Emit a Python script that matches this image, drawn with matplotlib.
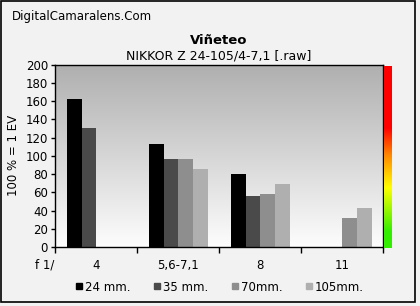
import numpy as np
import matplotlib
matplotlib.use('Agg')
import matplotlib.pyplot as plt
from matplotlib.colors import LinearSegmentedColormap
import matplotlib.lines as mlines
from matplotlib.patches import Rectangle

# data
apertures = ['4', '5,6-7,1', '8', '11']
series = ['24 mm.', '35 mm.', '70mm.', '105mm.']
v24 = [163, 113, 80, 0]
v35 = [131, 97, 56, 0]
v70 = [0, 97, 58, 32]
v105 = [0, 86, 69, 43]
values = [v24, v35, v70, v105]
colors = ['#000000', '#4a4a4a', '#8e8e8e', '#afafaf']

fig = plt.figure(figsize=(4.2, 3.06), dpi=100)
fig.patch.set_facecolor('#f2f2f2')
fig.patches.append(Rectangle((0.003, 0.012), 0.985, 0.984, transform=fig.transFigure,
                             fill=False, edgecolor='black', linewidth=1.2))

ax = fig.add_axes([0.131, 0.193, 0.781, 0.595])
ax.set_xlim(0, len(apertures))
ax.set_ylim(0, 200)

# gradient background
grad = np.linspace(0, 1, 256).reshape(-1, 1)
bg = LinearSegmentedColormap.from_list('bg', ['#fdfdfd', '#afafaf'])
ax.imshow(grad, aspect='auto', cmap=bg, origin='lower',
          extent=[0, len(apertures), 0, 200], zorder=0)

w = 0.18
start = 0.145
x = np.arange(len(apertures))
for i, (vals, c) in enumerate(zip(values, colors)):
    ax.bar(x + start + i * w, vals, width=w, align='edge', color=c, zorder=2,
           linewidth=0)

ax.set_yticks(np.arange(0, 201, 20))
ax.set_xticks(np.arange(0, len(apertures) + 1))
ax.set_xticklabels([])
ax.tick_params(axis='x', length=4, width=1, direction='out')
ax.tick_params(axis='y', length=3, width=1, labelsize=8.5, pad=2)
for i, lab in enumerate(apertures):
    ax.text(i + 0.5, -20, lab, ha='center', va='center', fontsize=8.5)
ax.text(-0.01, -20, 'f 1/', ha='right', va='center', fontsize=8.5)
for s in ax.spines.values():
    s.set_linewidth(1)
    s.set_color('black')
ax.set_ylabel('100 % = 1 EV', fontsize=8.5, labelpad=4)

# colour bar on the right
cax = fig.add_axes([0.914, 0.19, 0.019, 0.594])
cb = LinearSegmentedColormap.from_list('scale', [(0, '#33ee00'), (0.09, '#33ee00'),
                                                 (0.33, '#ffff00'), (0.51, '#ff8800'),
                                                 (0.66, '#ff0000'), (1, '#ff0000')])
cax.imshow(grad, aspect='auto', cmap=cb, origin='lower')
cax.set_axis_off()

fig.text(0.028, 0.945, 'DigitalCamaralens.Com', fontsize=8.5, va='center')
fig.text(0.52, 0.868, 'Viñeteo', fontsize=9.5, weight='bold', ha='center', va='center')
fig.text(0.52, 0.818, 'NIKKOR Z 24-105/4-7,1 [.raw]', fontsize=9, ha='center', va='center')

handles = [mlines.Line2D([], [], marker='s', linestyle='none', color=c, markersize=4)
           for c in colors]
fig.legend(handles, series, loc='center', bbox_to_anchor=(0.52, 0.062), ncol=4,
           frameon=False, fontsize=8.5, handletextpad=0.0, columnspacing=1.75,
           handlelength=1)

fig.savefig('out.png', dpi=100, facecolor=fig.get_facecolor())
